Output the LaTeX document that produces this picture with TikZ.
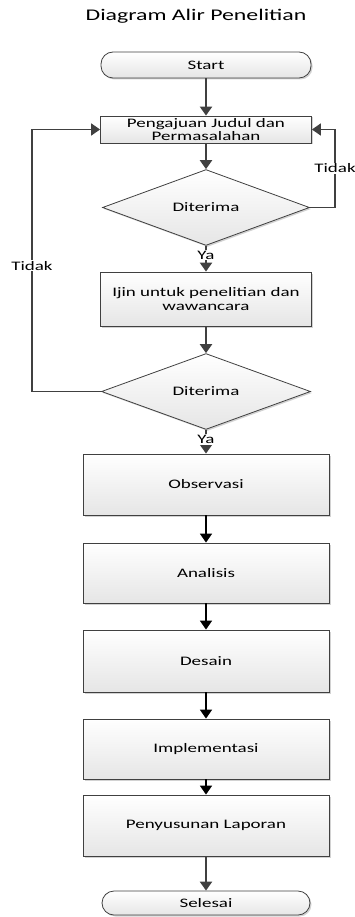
\documentclass[tikz,border=0pt]{standalone}
\usepackage{fontspec}
\setmainfont{Carlito}[FakeStretch=1.46]
\usetikzlibrary{arrows.meta,shapes.geometric,shadows}
\definecolor{ln}{HTML}{404040}
\begin{document}
\begin{tikzpicture}[x=1pt,y=-1pt,
  base/.style={draw=ln, line width=0.8pt, top color=white, bottom color=black!10,
    drop shadow={shadow xshift=1.5pt,shadow yshift=-1.5pt,fill=black!35,opacity=0.5},
    inner sep=0pt, font=\fontsize{13}{13.4}\selectfont, align=center, text=black},
  procbox/.style={base, rectangle},
  termbox/.style={base, rectangle, rounded corners=12pt},
  decbox/.style={base, diamond},
  arr/.style={draw=ln, line width=2.2pt, -{Triangle[length=9pt,width=12pt]}},
  arrb/.style={draw=black, line width=1.6pt, -{Triangle[length=9pt,width=12pt]}},
  loopl/.style={draw=ln, line width=1.8pt, -{Triangle[length=9pt,width=12pt]}},
  lbl/.style={fill=white, inner sep=1pt, font=\fontsize{13}{13}\selectfont, text=black}]
\useasboundingbox (0,0) rectangle (355,917);
\clip (0,0) rectangle (355,917);
\node[font=\fontsize{16.3}{18}\selectfont] (title) at (196,16.5) {Diagram Alir Penelitian};
\node[termbox, minimum width=210pt, minimum height=26pt] (start) at (206,65) {Start};
\node[procbox, minimum width=211pt, minimum height=27pt] (b1) at (206,129.5) {Pengajuan Judul dan\\Permasalahan};
\node[decbox, minimum width=207pt, minimum height=55pt] (d1) at (206,207.5) {Diterima};
\node[procbox, minimum width=211pt, minimum height=54pt] (b2) at (206,299) {Ijin untuk penelitian dan\\wawancara};
\node[decbox, minimum width=209pt, minimum height=55pt] (d2) at (206,391.5) {Diterima};
\node[procbox, minimum width=246pt, minimum height=61pt] (b3) at (206,484.5) {Observasi};
\node[procbox, minimum width=246pt, minimum height=60pt] (b4) at (206,573) {Analisis};
\node[procbox, minimum width=246pt, minimum height=62pt] (b5) at (206,661) {Desain};
\node[procbox, minimum width=246pt, minimum height=60pt] (b6) at (206,749) {Implementasi};
\node[procbox, minimum width=246pt, minimum height=61pt] (b7) at (206,825.5) {Penyusunan Laporan};
\node[termbox, minimum width=208pt, minimum height=24pt] (end) at (206,903) {Selesai};
\coordinate (rc) at (335,207.5);
\coordinate (lc) at (32,391.5);
\draw[arr] (start) -- (b1);
\draw[arr] (b1) -- (d1);
\draw[arr] (d1) -- node[lbl, pos=0.36]{Ya} (b2);
\draw[arr] (b2) -- (d2);
\draw[arr] (d2) -- node[lbl, pos=0.4]{Ya} (b3);
\draw[arrb] (b3) -- (b4);
\draw[arrb] (b4) -- (b5);
\draw[arrb] (b5) -- (b6);
\draw[arrb] (b6) -- (b7);
\draw[arr] (b7) -- (end);
\draw[loopl] (d1.east) -- (rc) |- node[lbl, pos=0.25]{Tidak} (b1.east);
\draw[loopl] (d2.west) -- (lc) |- node[lbl, pos=0.24]{Tidak} (b1.west);
\end{tikzpicture}
\end{document}
